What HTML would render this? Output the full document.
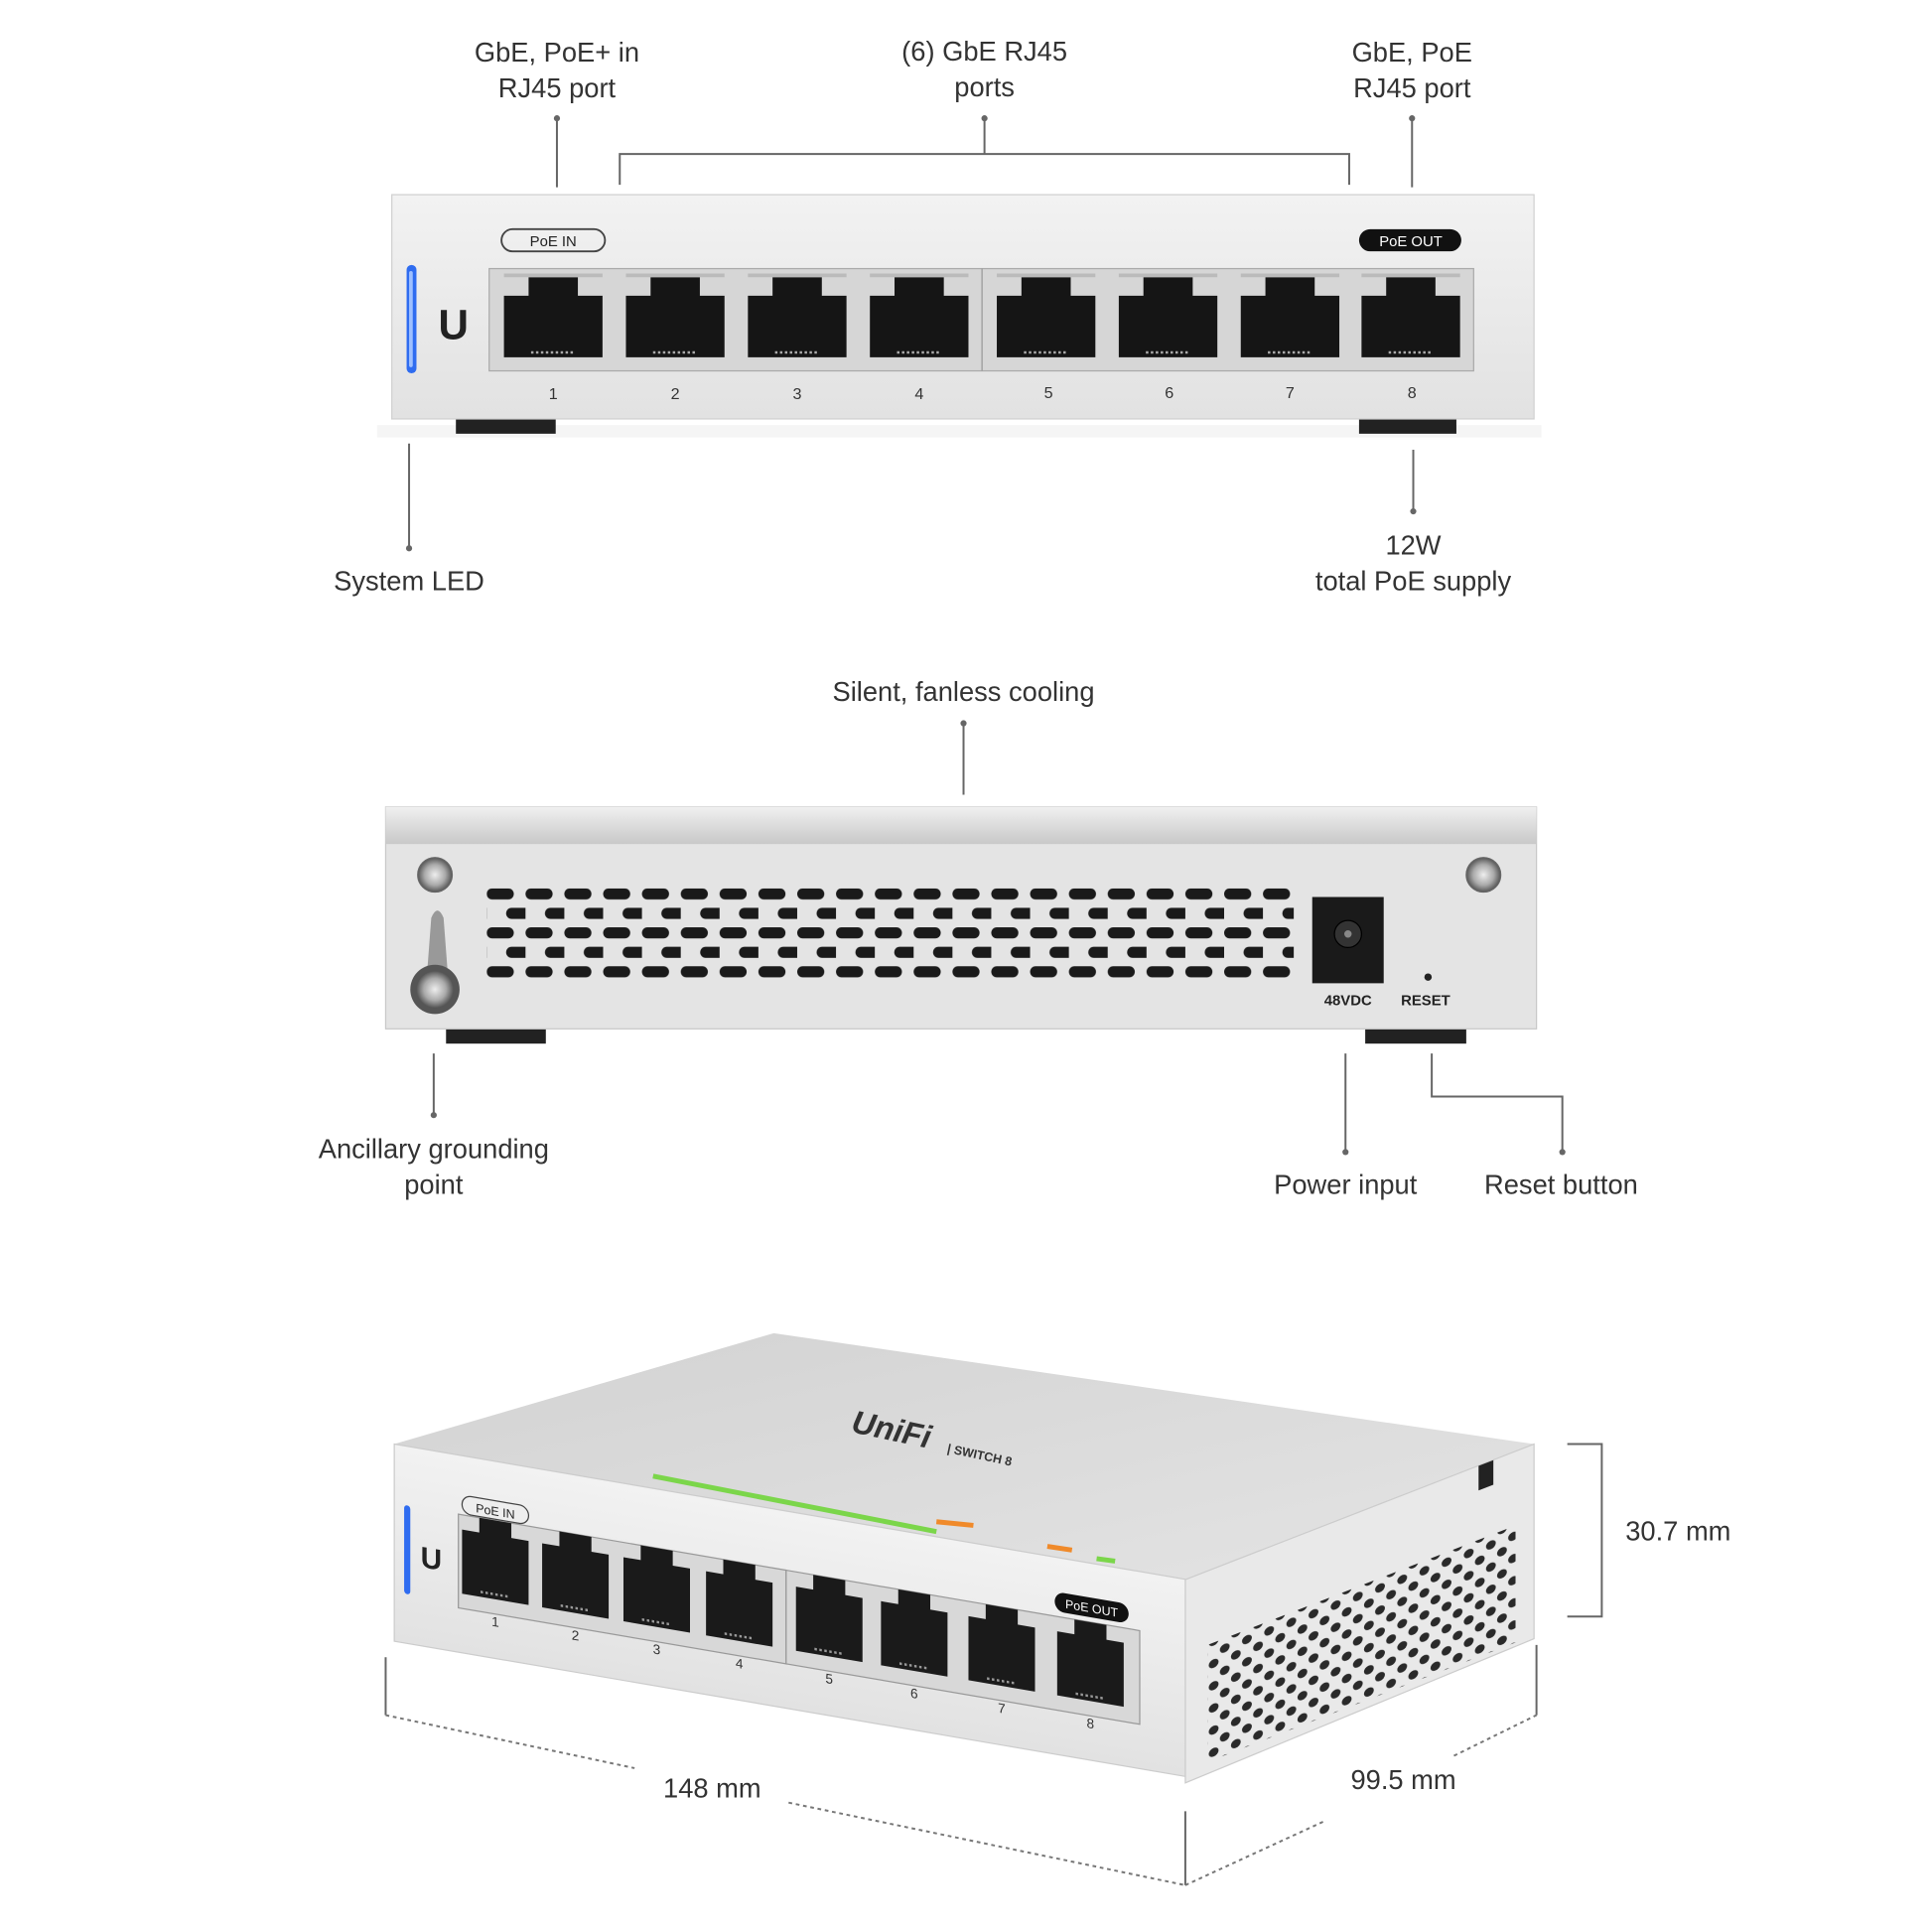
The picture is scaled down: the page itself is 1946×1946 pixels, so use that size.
<!DOCTYPE html>
<html><head><meta charset="utf-8"><style>
html,body{margin:0;padding:0;background:#fff}
svg{display:block}
text{font-family:"Liberation Sans",sans-serif}
</style></head><body>
<svg width="1946" height="1946" viewBox="0 0 1568 1568" xmlns="http://www.w3.org/2000/svg">
<defs>
<linearGradient id="fr" x1="0" y1="0" x2="0" y2="1"><stop offset="0" stop-color="#f2f2f2"/><stop offset="1" stop-color="#e2e2e2"/></linearGradient>
<linearGradient id="rim" x1="0" y1="0" x2="0" y2="1"><stop offset="0" stop-color="#f0f0f0"/><stop offset="0.5" stop-color="#dcdcdc"/><stop offset="1" stop-color="#c8c8c8"/></linearGradient>
<linearGradient id="top" x1="0" y1="0" x2="1" y2="1"><stop offset="0" stop-color="#d2d2d2"/><stop offset="1" stop-color="#e4e4e4"/></linearGradient>
<radialGradient id="scr"><stop offset="0" stop-color="#eee"/><stop offset="0.6" stop-color="#aaa"/><stop offset="1" stop-color="#555"/></radialGradient>
<pattern id="vent" x="395" y="721" width="31.5" height="31.6" patternUnits="userSpaceOnUse">
<rect x="0" y="0" width="22" height="9" rx="4.5" fill="#1a1a1a"/>
<rect x="15.75" y="15.8" width="22" height="9" rx="4.5" fill="#1a1a1a"/>
</pattern>
<pattern id="holes" x="0" y="0" width="18" height="18" patternUnits="userSpaceOnUse">
<ellipse cx="5" cy="5" rx="4" ry="3.5" fill="#2a2a2a"/>
<ellipse cx="14" cy="14" rx="4" ry="3.5" fill="#2a2a2a"/>
</pattern>
<g id="fp"><path d="M-40,240 H-20 V225 H20 V240 H40 V290 H-40 Z" fill="#151515"/><rect x="-40" y="222" width="80" height="3" fill="#bbb"/><line x1="-18" y1="286" x2="18" y2="286" stroke="#aaa" stroke-width="2" stroke-dasharray="2 2"/></g>
<g id="ip"><path d="M-27,64 H-13 V52 H13 V64 H27 V116 H-27 Z" fill="#1a1a1a"/><line x1="-12" y1="112" x2="12" y2="112" stroke="#999" stroke-width="2" stroke-dasharray="2 2"/></g>
</defs>

<g fill="#333" font-size="22" text-anchor="middle">
<text x="452" y="50">GbE, PoE+ in</text><text x="452" y="79">RJ45 port</text>
<text x="799" y="49">(6) GbE RJ45</text><text x="799" y="78">ports</text>
<text x="1146" y="50">GbE, PoE</text><text x="1146" y="79">RJ45 port</text>
<text x="332" y="479">System LED</text>
<text x="1147" y="450">12W</text><text x="1147" y="479">total PoE supply</text>
<text x="782" y="569">Silent, fanless cooling</text>
<text x="352" y="940">Ancillary grounding</text><text x="352" y="969">point</text>
<text x="1092" y="969">Power input</text>
<text x="1267" y="969">Reset button</text>
<text x="1362" y="1250">30.7 mm</text>
<text x="578" y="1459">148 mm</text>
<text x="1139" y="1452">99.5 mm</text>
</g>
<g stroke="#666" stroke-width="1.6" fill="none">
<line x1="452" y1="96" x2="452" y2="152"/>
<line x1="799" y1="96" x2="799" y2="125"/>
<polyline points="503,150 503,125 1095,125 1095,150"/>
<line x1="1146" y1="96" x2="1146" y2="152"/>
<line x1="332" y1="360" x2="332" y2="445"/>
<line x1="1147" y1="365" x2="1147" y2="415"/>
<line x1="782" y1="587" x2="782" y2="645"/>
<line x1="352" y1="855" x2="352" y2="905"/>
<line x1="1092" y1="855" x2="1092" y2="935"/>
<polyline points="1162,855 1162,890 1268,890 1268,935"/>
<polyline points="1272,1172 1300,1172 1300,1312 1272,1312"/>
<line x1="313" y1="1345" x2="313" y2="1392"/>
<line x1="962" y1="1470" x2="962" y2="1530"/>
<line x1="1247" y1="1335" x2="1247" y2="1392"/>
</g>
<g stroke="#777" stroke-width="1.6" fill="none" stroke-dasharray="3 3">
<line x1="313" y1="1392" x2="515" y2="1435"/>
<line x1="640" y1="1463" x2="962" y2="1530"/>
<line x1="962" y1="1530" x2="1075" y2="1478"/>
<line x1="1180" y1="1425" x2="1247" y2="1392"/>
</g>
<g fill="#666">
<circle cx="452" cy="96" r="2.5"/><circle cx="799" cy="96" r="2.5"/><circle cx="1146" cy="96" r="2.5"/>
<circle cx="332" cy="445" r="2.5"/><circle cx="1147" cy="415" r="2.5"/><circle cx="782" cy="587" r="2.5"/>
<circle cx="352" cy="905" r="2.5"/><circle cx="1092" cy="935" r="2.5"/><circle cx="1268" cy="935" r="2.5"/>
</g>

<!-- front view -->
<rect x="306" y="345" width="945" height="10" fill="#eee" opacity="0.6"/>
<rect x="370" y="338" width="81" height="14" fill="#222"/>
<rect x="1103" y="338" width="79" height="14" fill="#222"/>
<rect x="318" y="158" width="927" height="182" fill="url(#fr)" stroke="#d0d0d0"/>
<rect x="330" y="215" width="8" height="88" rx="4" fill="#2f6cf0"/>
<rect x="332" y="220" width="3" height="78" rx="1.5" fill="#9fc0ff"/>
<text x="368" y="275" font-size="34" font-weight="bold" fill="#222" text-anchor="middle">U</text>
<rect x="397" y="218" width="799" height="83" fill="#d6d6d6" stroke="#aaa"/>
<line x1="797" y1="218" x2="797" y2="301" stroke="#999"/>
<use href="#fp" x="449"/><use href="#fp" x="548"/><use href="#fp" x="647"/><use href="#fp" x="746"/>
<use href="#fp" x="849"/><use href="#fp" x="948"/><use href="#fp" x="1047"/><use href="#fp" x="1145"/>
<rect x="407" y="186" width="84" height="18" rx="9" fill="none" stroke="#444" stroke-width="1.5"/>
<text x="449" y="200" font-size="12" fill="#222" text-anchor="middle">PoE IN</text>
<rect x="1103" y="186" width="83" height="18" rx="9" fill="#111"/>
<text x="1145" y="200" font-size="12" fill="#fff" text-anchor="middle">PoE OUT</text>
<g font-size="13" fill="#333" text-anchor="middle">
<text x="449" y="324">1</text><text x="548" y="324">2</text><text x="647" y="324">3</text><text x="746" y="324">4</text>
<text x="851" y="323">5</text><text x="949" y="323">6</text><text x="1047" y="323">7</text><text x="1146" y="323">8</text>
</g>

<!-- back view -->
<rect x="362" y="833" width="81" height="14" fill="#222"/>
<rect x="1108" y="833" width="82" height="14" fill="#222"/>
<rect x="313" y="655" width="934" height="180" fill="#e4e4e4" stroke="#c8c8c8"/>
<rect x="313" y="655" width="934" height="30" fill="url(#rim)"/>
<rect x="395" y="721" width="655" height="73" fill="url(#vent)"/>
<circle cx="353" cy="710" r="14" fill="url(#scr)" stroke="#666"/>
<circle cx="1204" cy="710" r="14" fill="url(#scr)" stroke="#666"/>
<path d="M346,798 L350,745 Q355,733 360,745 L364,798 Z" fill="#999"/>
<circle cx="353" cy="803" r="20" fill="#555"/><circle cx="353" cy="803" r="15" fill="url(#scr)"/>
<rect x="1065" y="728" width="58" height="70" fill="#1a1a1a"/>
<circle cx="1094" cy="758" r="11" fill="#333" stroke="#000"/><circle cx="1094" cy="758" r="3" fill="#888"/>
<circle cx="1159" cy="793" r="3" fill="#222"/>
<text x="1094" y="816" font-size="12" font-weight="bold" fill="#222" text-anchor="middle">48VDC</text>
<text x="1157" y="816" font-size="12" font-weight="bold" fill="#222" text-anchor="middle">RESET</text>

<!-- isometric view -->
<polygon points="320,1172 628,1082 1245,1172 962,1282" fill="url(#top)"/>
<polygon points="962,1282 1245,1172 1245,1330 962,1447" fill="#e9e9e9" stroke="#ccc"/>
<g transform="translate(962,1282) skewY(-21.2)">
<rect x="18" y="60" width="250" height="95" fill="url(#holes)"/>
<rect x="238" y="0" width="12" height="20" fill="#222"/>
</g>
<g transform="translate(320,1172) skewY(9.7)">
<rect x="0" y="0" width="642" height="160" fill="url(#fr)" stroke="#ccc"/>
<rect x="8" y="48" width="5" height="72" rx="2.5" fill="#2f6cf0"/>
<text x="30" y="96" font-size="24" font-weight="bold" fill="#222" text-anchor="middle">U</text>
<rect x="52" y="48" width="266" height="76" fill="#d8d8d8" stroke="#999"/>
<rect x="318" y="48" width="287" height="76" fill="#d8d8d8" stroke="#999"/>
<use href="#ip" x="82" y="-4"/><use href="#ip" x="147" y="-4"/><use href="#ip" x="213" y="-4"/><use href="#ip" x="280" y="-4"/>
<use href="#ip" x="353" y="-4"/><use href="#ip" x="422" y="-4"/><use href="#ip" x="493" y="-4"/><use href="#ip" x="565" y="-4"/>
<rect x="55" y="32" width="54" height="15" rx="7.5" fill="none" stroke="#444"/>
<text x="82" y="44" font-size="10" fill="#222" text-anchor="middle">PoE IN</text>
<rect x="536" y="28" width="60" height="16" rx="8" fill="#111"/>
<text x="566" y="40" font-size="10" fill="#fff" text-anchor="middle">PoE OUT</text>
<g font-size="11" fill="#333" text-anchor="middle">
<text x="82" y="134">1</text><text x="147" y="134">2</text><text x="213" y="134">3</text><text x="280" y="134">4</text>
<text x="353" y="134">5</text><text x="422" y="134">6</text><text x="493" y="134">7</text><text x="565" y="134">8</text>
</g>
</g>
<line x1="530" y1="1198" x2="760" y2="1243" stroke="#7bd64a" stroke-width="4"/>
<line x1="760" y1="1235" x2="790" y2="1238" stroke="#f08a2a" stroke-width="4"/>
<line x1="850" y1="1255" x2="870" y2="1258" stroke="#f08a2a" stroke-width="4"/>
<line x1="890" y1="1265" x2="905" y2="1267" stroke="#7bd64a" stroke-width="4"/>
<g transform="translate(690,1162) rotate(12)">
<text x="0" y="0" font-size="26" font-style="italic" font-weight="bold" fill="#333">UniFi</text>
<text x="80" y="0" font-size="10" font-weight="bold" fill="#333">| SWITCH 8</text>
</g>
</svg>
</body></html>
